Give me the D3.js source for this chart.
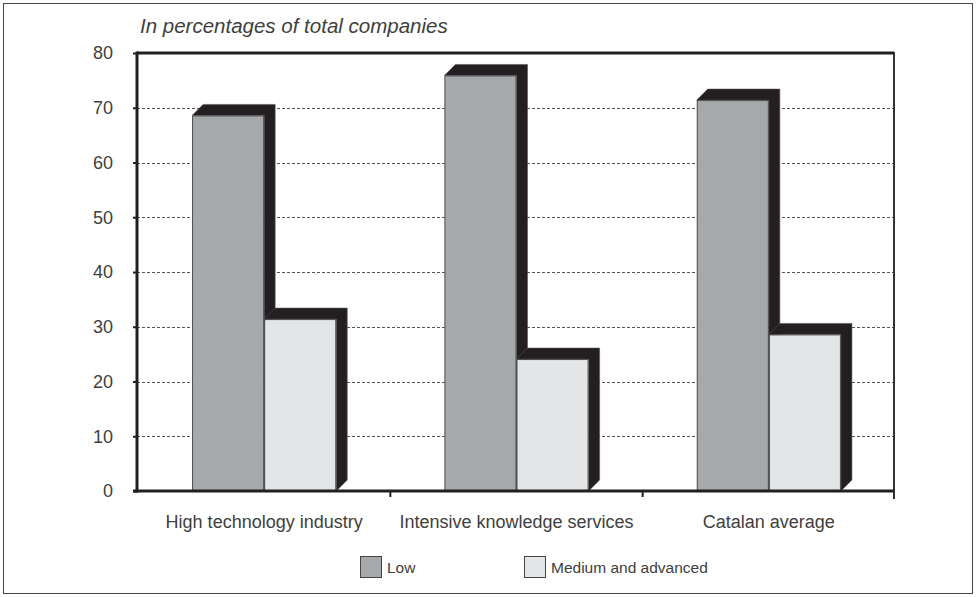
<!DOCTYPE html>
<html>
<head>
<meta charset="utf-8">
<script src="https://cdn.jsdelivr.net/npm/d3@7"></script>
<style>
  html, body { margin: 0; padding: 0; background: #fff; }
  svg { display: block; font-family: "Liberation Sans", Arial, sans-serif; }
</style>
</head>
<body>
<svg id="chart" width="976" height="597"></svg>
<script>
// Share of companies by level, per sector (%)
const categories = ["High technology industry", "Intensive knowledge services", "Catalan average"];
const seriesNames = ["Low", "Medium and advanced"];
const lowValues = [68.6, 75.9, 71.4];
const mediumValues = [31.4, 24.1, 28.6];
const yTicks = [0, 10, 20, 30, 40, 50, 60, 70, 80];

const colors = { "Low": "#a7a8ab", "Medium and advanced": "#e4e5e7" };
const depthColor = "#231f20";
const textColor = "#404040";

const svg = d3.select("#chart");
const W = 976, H = 597;
const plot = { left: 137, right: 894, top: 53, bottom: 491 };

// outer frame
svg.append("rect")
  .attr("x", 3.5).attr("y", 3.5)
  .attr("width", W - 7).attr("height", H - 7)
  .attr("fill", "none").attr("stroke", "#444").attr("stroke-width", 1);

const x = d3.scaleBand().domain(categories).range([plot.left + 1, plot.right + 1]);
const inner = d3.scaleBand().domain(seriesNames).range([0, x.bandwidth()]).paddingOuter(0.75).paddingInner(0);
const y = d3.scaleLinear().domain([0, 80]).range([plot.bottom, plot.top]);

// dashed gridlines
svg.append("g").selectAll("line")
  .data(yTicks.filter(t => t > 0 && t < 80))
  .join("line")
  .attr("x1", plot.left).attr("x2", plot.right)
  .attr("y1", d => Math.round(y(d)) + 0.5).attr("y2", d => Math.round(y(d)) + 0.5)
  .attr("stroke", "#555").attr("stroke-width", 1)
  .attr("stroke-dasharray", "3,2");

// right frame line
svg.append("line")
  .attr("x1", plot.right).attr("x2", plot.right)
  .attr("y1", plot.top - 1).attr("y2", plot.bottom + 8)
  .attr("stroke", "#333").attr("stroke-width", 2);

// top frame line
svg.append("line")
  .attr("x1", plot.left).attr("x2", plot.right)
  .attr("y1", plot.top).attr("y2", plot.top)
  .attr("stroke", "#231f20").attr("stroke-width", 3);

// bars with extruded depth
const d = 11;
const rows = [];
categories.forEach((c, i) => {
  rows.push({ cat: c, series: "Low", value: lowValues[i] });
  rows.push({ cat: c, series: "Medium and advanced", value: mediumValues[i] });
});

const barG = svg.append("g");
rows.forEach(r => {
  const x0 = x(r.cat) + inner(r.series);
  const x1 = x0 + inner.bandwidth();
  const yt = y(r.value);
  const yb = y(0);
  const g = barG.append("g");
  g.append("path")
    .attr("d", `M${x0},${yt} L${x0 + d},${yt - d} L${x1 + d},${yt - d} L${x1 + d},${yb - d} L${x1},${yb} L${x1},${yt} Z`)
    .attr("fill", depthColor)
    .attr("stroke", "#555").attr("stroke-width", 0.6);
  g.append("rect")
    .attr("x", x0 + 0.5).attr("y", yt + 0.5)
    .attr("width", x1 - x0 - 1).attr("height", yb - yt - 0.5)
    .attr("fill", colors[r.series])
    .attr("stroke", "#4a4a4a").attr("stroke-width", 1);
});

// y axis
const yAxis = svg.append("g")
  .attr("transform", `translate(${plot.left},0)`)
  .call(d3.axisLeft(y).tickValues(yTicks).tickSize(4).tickPadding(20).tickFormat(d3.format("d")));
yAxis.select(".domain").attr("stroke", "#231f20").attr("stroke-width", 3)
  .attr("d", `M0,${plot.top - 1.5}V${plot.bottom + 1.5}`);
yAxis.selectAll(".tick line").attr("stroke", "#231f20").attr("stroke-width", 2);
yAxis.selectAll(".tick text")
  .attr("fill", textColor).attr("font-size", 18)
  .attr("font-family", "Liberation Sans, Arial, sans-serif");

// x axis
const xAxis = svg.append("g")
  .attr("transform", `translate(0,${plot.bottom})`)
  .call(d3.axisBottom(x).tickSize(0).tickPadding(24));
xAxis.select(".domain").attr("stroke", "#231f20").attr("stroke-width", 3)
  .attr("d", `M${plot.left - 4},0H${plot.right}`);
xAxis.selectAll(".tick text")
  .attr("fill", textColor).attr("font-size", 18)
  .attr("font-family", "Liberation Sans, Arial, sans-serif");

// category separators below the axis
svg.append("g").selectAll("line")
  .data(categories.slice(1))
  .join("line")
  .attr("x1", c => x(c)).attr("x2", c => x(c))
  .attr("y1", plot.bottom).attr("y2", plot.bottom + 6)
  .attr("stroke", "#231f20").attr("stroke-width", 2);

// subtitle
svg.append("text")
  .attr("x", 140).attr("y", 33)
  .attr("font-size", 20.5).attr("font-style", "italic")
  .attr("fill", textColor)
  .text("In percentages of total companies");

// legend
const legendX = [360, 524];
const legend = svg.append("g");
seriesNames.forEach((s, i) => {
  legend.append("rect")
    .attr("x", legendX[i] + 0.5).attr("y", 556.5)
    .attr("width", 21).attr("height", 21)
    .attr("fill", colors[s]).attr("stroke", "#444").attr("stroke-width", 1);
  legend.append("text")
    .attr("x", legendX[i] + 27).attr("y", 573)
    .attr("font-size", 15.5).attr("fill", textColor)
    .text(s);
});
</script>
</body>
</html>
